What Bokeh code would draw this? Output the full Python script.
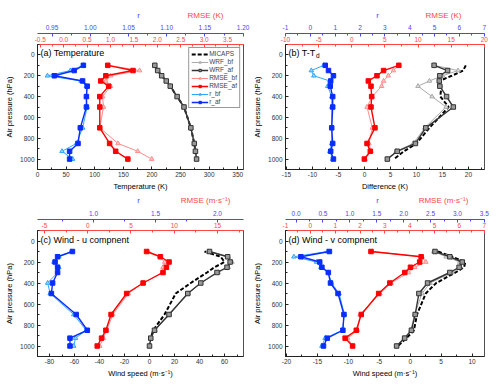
from bokeh.plotting import figure
from bokeh.models import (Range1d, LinearAxis, SingleIntervalTicker, PrintfTickFormatter,
                          Label, Legend, LegendItem)
from bokeh.layouts import gridplot
from bokeh.embed import file_html
from bokeh.resources import INLINE

# ---------------- data ----------------
levels = [100, 150, 200, 250, 300, 400, 500, 700, 850, 925, 1000]

# (a) Temperature
micaps_a = [205, 210, 217, 225, 232, 244, 256, 268, 274, 276, 278]
wrf_bf_a = [205, 210, 217, 225, 232, 244, 256, 268, 274, 276, 278]
wrf_af_a = [205, 210, 217, 225, 232, 244, 256, 268, 274, 276, 278]
rmse_bf_a = [0.96, 1.62, 1.00, 0.90, 1.00, 0.83, 0.85, 0.77, 1.16, 1.58, 1.88]
rmse_af_a = [0.94, 1.48, 0.90, 0.79, 0.96, 0.77, 0.77, 0.77, 0.98, 1.11, 1.37]
r_bf_a = [0.991, 0.974, 0.944, 0.988, 0.995, 0.995, 0.996, 0.990, 0.982, 0.963, 0.977]
r_af_a = [0.991, 0.979, 0.953, 0.990, 0.996, 0.995, 0.995, 0.987, 0.984, 0.973, 0.973]

# (b) T-Td
micaps_b = [19.5, 19.0, 16.8, 14.4, 14.8, 14.6, 16.2, 12.5, 10.0, 7.6, 5.7]
wrf_bf_b = [13.4, 18.0, 15.0, 12.5, 10.3, 13.0, 15.7, 11.6, 9.4, 6.1, 4.4]
wrf_af_b = [13.4, 16.0, 14.5, 14.4, 14.5, 15.8, 17.1, 11.8, 9.8, 6.3, 4.4]
rmse_bf_b = [7.1, 6.3, 5.5, 4.8, 4.5, 3.1, 2.3, 3.1, 2.6, 2.9, 2.0]
rmse_af_b = [7.1, 4.8, 3.8, 2.5, 2.9, 3.0, 2.9, 3.5, 2.3, 2.8, 1.9]
r_bf_b = [0.54, 0.04, 0.14, 0.78, 0.70, 0.86, 0.86, 0.86, 0.86, 0.78, 0.90]
r_af_b = [0.60, 0.73, 0.93, 0.82, 0.80, 0.90, 0.90, 0.86, 0.90, 0.82, 0.93]

# (c) Wind u
micaps_c = [44, 57, 60, 52, 46, 33, 21, 12, 3, 1, 0]
wrf_bf_c = [47, 63, 66, 63, 55, 41, 31, 16, 4.5, 1, 0]
wrf_af_c = [48, 62.5, 64.5, 62, 54, 41, 30.6, 15.6, 4, 1, 0]
rmse_bf_c = [7.0, 8.3, 8.9, 8.7, 8.6, 6.4, 4.7, 2.9, 2.2, 1.8, 1.4]
rmse_af_c = [6.8, 8.4, 9.4, 9.1, 8.7, 6.4, 4.5, 2.7, 2.1, 1.6, 1.1]
r_bf_c = [0.82, 0.72, 0.68, 0.72, 0.71, 0.63, 0.65, 0.84, 0.94, 0.855, 0.84]
r_af_c = [0.83, 0.71, 0.69, 0.71, 0.71, 0.67, 0.66, 0.86, 0.95, 0.81, 0.81]

# (d) Wind v
micaps_d = [4.5, 6.8, 8.9, 8.7, 7.3, 4.2, 2.5, 1.1, 0.6, -0.6, -2.0]
wrf_bf_d = [3.8, 5.8, 8.0, 8.0, 6.8, 3.2, 1.9, 0.7, 0.1, -1.0, -2.2]
wrf_af_d = [4.0, 6.4, 8.4, 7.9, 6.4, 2.8, 1.4, 0.8, 0.2, -0.9, -2.2]
rmse_bf_d = [2.5, 4.5, 4.65, 4.2, 3.95, 3.25, 2.8, 2.0, 1.9, 1.5, 1.7]
rmse_af_d = [2.44, 4.46, 4.4, 4.03, 3.8, 3.2, 2.75, 2.05, 1.85, 1.4, 1.7]
r_bf_d = [0.58, -0.04, 0.38, 0.46, 0.60, 0.66, 0.80, 0.90, 0.86, 0.54, 0.48]
r_af_d = [0.62, 0.09, 0.44, 0.48, 0.60, 0.64, 0.78, 0.89, 0.87, 0.58, 0.51]

series_names = ["MICAPS", "WRF_bf", "WRF_af", "RMSE_bf", "RMSE_af", "r_bf", "r_af"]

# ---------------- style ----------------
FONT = "Liberation Sans"
BLUE_AX = "#4646ff"
RED_AX = "#ff4646"
TICK_FS = "6.5px"
TITLE_FS = "7.5px"

STYLES = {
    "MICAPS": dict(color="black", marker=None, lw=2, fill=None, dash="4 2", rng="default"),
    "WRF_bf": dict(color="#aaaaaa", marker="triangle", lw=1, fill="#dddddd", dash="solid", rng="default"),
    "WRF_af": dict(color="#333333", marker="square", lw=1.4, fill="#999999", dash="solid", rng="default"),
    "RMSE_bf": dict(color="#ff8c8c", marker="triangle", lw=1, fill="#ffc8c8", dash="solid", rng="rmse"),
    "RMSE_af": dict(color="#ff0000", marker="square", lw=1.4, fill="#ff0000", dash="solid", rng="rmse"),
    "r_bf": dict(color="#2ea8ff", marker="triangle", lw=1, fill="#9ad4ff", dash="solid", rng="r"),
    "r_af": dict(color="#0a2cff", marker="square", lw=1.4, fill="#0a2cff", dash="solid", rng="r"),
}


def style_axis(ax, color, label_color=None, standoff=2):
    ax.axis_line_color = color
    ax.major_tick_line_color = color
    ax.minor_tick_line_color = color
    ax.major_label_text_color = label_color or color
    ax.major_label_text_font = FONT
    ax.major_label_text_font_size = TICK_FS
    ax.major_tick_in = 3
    ax.major_tick_out = 0
    ax.minor_tick_in = 2
    ax.minor_tick_out = 0
    ax.major_label_standoff = standoff
    ax.axis_label_text_font = FONT
    ax.axis_label_text_font_size = TITLE_FS
    ax.axis_label_text_font_style = "normal"
    ax.axis_label_text_color = "black"
    ax.axis_label_standoff = 2


def strip(width, height, rmse_title, r_x, rmse_x, ty):
    s = figure(width=width, height=height, x_range=Range1d(0, width), y_range=Range1d(0, height),
               x_axis_type=None, y_axis_type=None, output_backend="svg", toolbar_location=None,
               min_border=0)
    s.outline_line_color = None
    s.xgrid.visible = False
    s.ygrid.visible = False
    s.add_layout(Label(x=r_x, y=ty, x_units="screen", y_units="screen", text="r",
                       text_font=FONT, text_font_size="8px", text_align="center",
                       text_baseline="middle", text_color=BLUE_AX))
    s.add_layout(Label(x=rmse_x, y=ty, x_units="screen", y_units="screen", text=rmse_title,
                       text_font=FONT, text_font_size="8px", text_align="center",
                       text_baseline="middle", text_color=RED_AX))
    return s


def build(cfg, data, width, height, left, right, top, bottom, with_legend=False):
    p = figure(width=width, height=height,
               x_range=Range1d(*cfg["x_rng"]), y_range=Range1d(1100, -100),
               output_backend="svg", toolbar_location=None,
               min_border_left=left, min_border_right=right,
               min_border_top=top, min_border_bottom=bottom)
    p.extra_x_ranges = {"rmse": Range1d(*cfg["rmse_rng"]), "r": Range1d(*cfg["r_rng"])}
    p.xgrid.visible = False
    p.ygrid.visible = False
    p.outline_line_color = "#505050"
    p.outline_line_width = 1
    p.background_fill_color = "white"
    p.border_fill_color = "white"

    xa = p.xaxis[0]
    xa.ticker = SingleIntervalTicker(interval=cfg["x_int"], num_minor_ticks=2)
    xa.formatter = PrintfTickFormatter(format=cfg["x_fmt"])
    xa.axis_label = cfg["xlabel"]
    style_axis(xa, "#222222", "#333333")

    ya = p.yaxis[0]
    ya.ticker = SingleIntervalTicker(interval=200, num_minor_ticks=2)
    ya.axis_label = "Air pressure (hPa)"
    style_axis(ya, "#222222", "#333333", standoff=3)
    ya.axis_label_standoff = 3

    ax_red = LinearAxis(x_range_name="rmse",
                        ticker=SingleIntervalTicker(interval=cfg["rmse_int"], num_minor_ticks=2),
                        formatter=PrintfTickFormatter(format=cfg["rmse_fmt"]))
    style_axis(ax_red, RED_AX, standoff=3)
    p.add_layout(ax_red, "above")
    ax_blue = LinearAxis(x_range_name="r",
                         ticker=SingleIntervalTicker(interval=cfg["r_int"], num_minor_ticks=2),
                         formatter=PrintfTickFormatter(format=cfg["r_fmt"]))
    style_axis(ax_blue, BLUE_AX, standoff=4)
    p.add_layout(ax_blue, "above")

    items = []
    for name, xs in zip(series_names, data):
        st = STYLES[name]
        rs = [p.line(xs, levels, line_color=st["color"], line_width=st["lw"],
                     line_dash=st["dash"], x_range_name=st["rng"])]
        if st["marker"]:
            rs.append(p.scatter(xs, levels, marker=st["marker"], size=4.5,
                                line_color=st["color"], fill_color=st["fill"],
                                x_range_name=st["rng"]))
        items.append(LegendItem(label=name, renderers=rs))

    if with_legend:
        lg = Legend(items=items, location="top_right",
                    label_text_font=FONT, label_text_font_size="6.5px",
                    label_height=6, glyph_height=6, glyph_width=17,
                    spacing=1, padding=2, margin=3, label_standoff=1,
                    border_line_color="#333333", border_line_width=1,
                    background_fill_alpha=1)
        p.add_layout(lg)

    fh = height - top - bottom
    p.add_layout(Label(x=3, y=fh - 10, x_units="screen", y_units="screen",
                       text=cfg["title"], text_font=FONT, text_font_size="9px",
                       text_baseline="middle", text_color="black"))
    if cfg.get("sub"):
        p.add_layout(Label(x=cfg["sub_x"], y=fh - 13, x_units="screen", y_units="screen",
                           text=cfg["sub"], text_font=FONT, text_font_size="6.5px",
                           text_baseline="middle", text_color="black"))
    return p


cfg_a = dict(title="(a) Temperature", xlabel="Temperature (K)", rmse_title="RMSE (K)",
             x_rng=(0, 360), rmse_rng=(-0.56, 3.84), r_rng=(0.931, 1.2005),
             x_int=50, rmse_int=0.5, r_int=0.05, x_fmt="%d", rmse_fmt="%.1f", r_fmt="%.2f")
cfg_b = dict(title="(b) T-T", sub="d", sub_x=30.5, xlabel="Difference (K)", rmse_title="RMSE (K)",
             x_rng=(-15.2, 23.1), rmse_rng=(-10, 20.03), r_rng=(-1, 7.01),
             x_int=5, rmse_int=5, r_int=1, x_fmt="%d", rmse_fmt="%d", r_fmt="%d")
cfg_c = dict(title="(c) Wind - u compnent", xlabel="Wind speed (m\u00b7s\u207b\u00b9)",
             rmse_title="RMSE (m\u00b7s\u207b\u00b9)",
             x_rng=(-89.6, 75.2), rmse_rng=(-5.8, 18.0), r_rng=(0.548, 2.21),
             x_int=20, rmse_int=5, r_int=0.5, x_fmt="%d", rmse_fmt="%d", r_fmt="%.1f")
cfg_d = dict(title="(d) Wind - v compnent", xlabel="Wind speed (m\u00b7s\u207b\u00b9)",
             rmse_title="RMSE (m\u00b7s\u207b\u00b9)",
             x_rng=(-20.15, 12.0), rmse_rng=(-1, 7.01), r_rng=(-0.196, 3.502),
             x_int=5, rmse_int=1, r_int=0.5, x_fmt="%d", rmse_fmt="%d", r_fmt="%.1f")

W = 250
sa = strip(W, 21, cfg_a["rmse_title"], 101, 168, 6)
sb = strip(W, 21, cfg_b["rmse_title"], 92, 158, 6)
sc = strip(W, 14, cfg_c["rmse_title"], 101, 168, 7)
sd = strip(W, 14, cfg_d["rmse_title"], 92, 158, 7)

pa = build(cfg_a, [micaps_a, wrf_bf_a, wrf_af_a, rmse_bf_a, rmse_af_a, r_bf_a, r_af_a],
           W, 172, 37, 7, 22, 23, with_legend=True)
pb = build(cfg_b, [micaps_b, wrf_bf_b, wrf_af_b, rmse_bf_b, rmse_af_b, r_bf_b, r_af_b],
           W, 172, 27, 16, 22, 23)
pc = build(cfg_c, [micaps_c, wrf_bf_c, wrf_af_c, rmse_bf_c, rmse_af_c, r_bf_c, r_af_c],
           W, 179, 37, 7, 22, 30)
pd = build(cfg_d, [micaps_d, wrf_bf_d, wrf_af_d, rmse_bf_d, rmse_af_d, r_bf_d, r_af_d],
           W, 179, 27, 16, 22, 30)

grid = gridplot([[sa, sb], [pa, pb], [sc, sd], [pc, pd]], toolbar_location=None)

open("out.html", "w").write(file_html(grid, INLINE))
